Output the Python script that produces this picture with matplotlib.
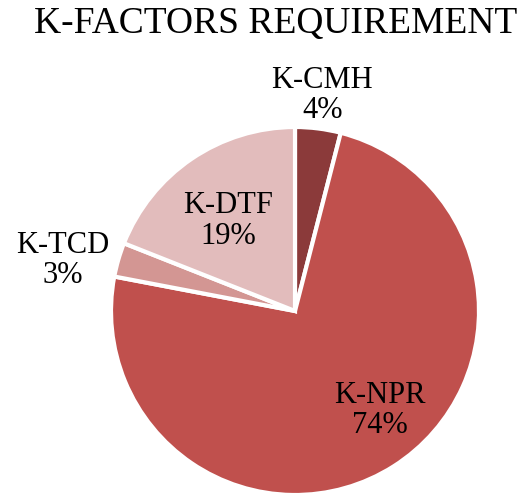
import matplotlib.pyplot as plt
import numpy as np

plt.rcParams["font.family"] = ["Liberation Serif", "DejaVu Serif"]

labels = ["K-CMH", "K-NPR", "K-TCD", "K-DTF"]
shares = [4, 74, 3, 19]
colors = ["#8B3A3A", "#C0504D", "#D39693", "#E2BCBC"]
# radial distance of each label (in pie radii)
label_dist = [1.18, 0.71, 1.29, 0.61]
label_shift = [0, 8, 4, 2.5]  # degrees

W, H = 527, 495
cx, cy, r = 295, 311, 184

fig = plt.figure(figsize=(W / 100, H / 100), dpi=100)
ax = fig.add_axes([0, 0, 1, 1])

wedges, _ = ax.pie(shares, colors=colors, startangle=90, counterclock=False,
                   radius=1, wedgeprops=dict(edgecolor="white", linewidth=3))

ax.set_xlim(-cx / r, (W - cx) / r)
ax.set_ylim((cy - H) / r, cy / r)
ax.axis("off")

for w, lab, s, d, sh in zip(wedges, labels, shares, label_dist, label_shift):
    ang = np.deg2rad((w.theta1 + w.theta2) / 2 + sh)
    ax.text(d * np.cos(ang), d * np.sin(ang), f"{lab}\n{s}%",
            ha="center", va="center", fontsize=22, linespacing=1.05)

fig.text(276 / W, 1 - 24 / H, "K-FACTORS REQUIREMENT", ha="center", va="center",
         fontsize=27)

fig.savefig("out.png", dpi=100)
